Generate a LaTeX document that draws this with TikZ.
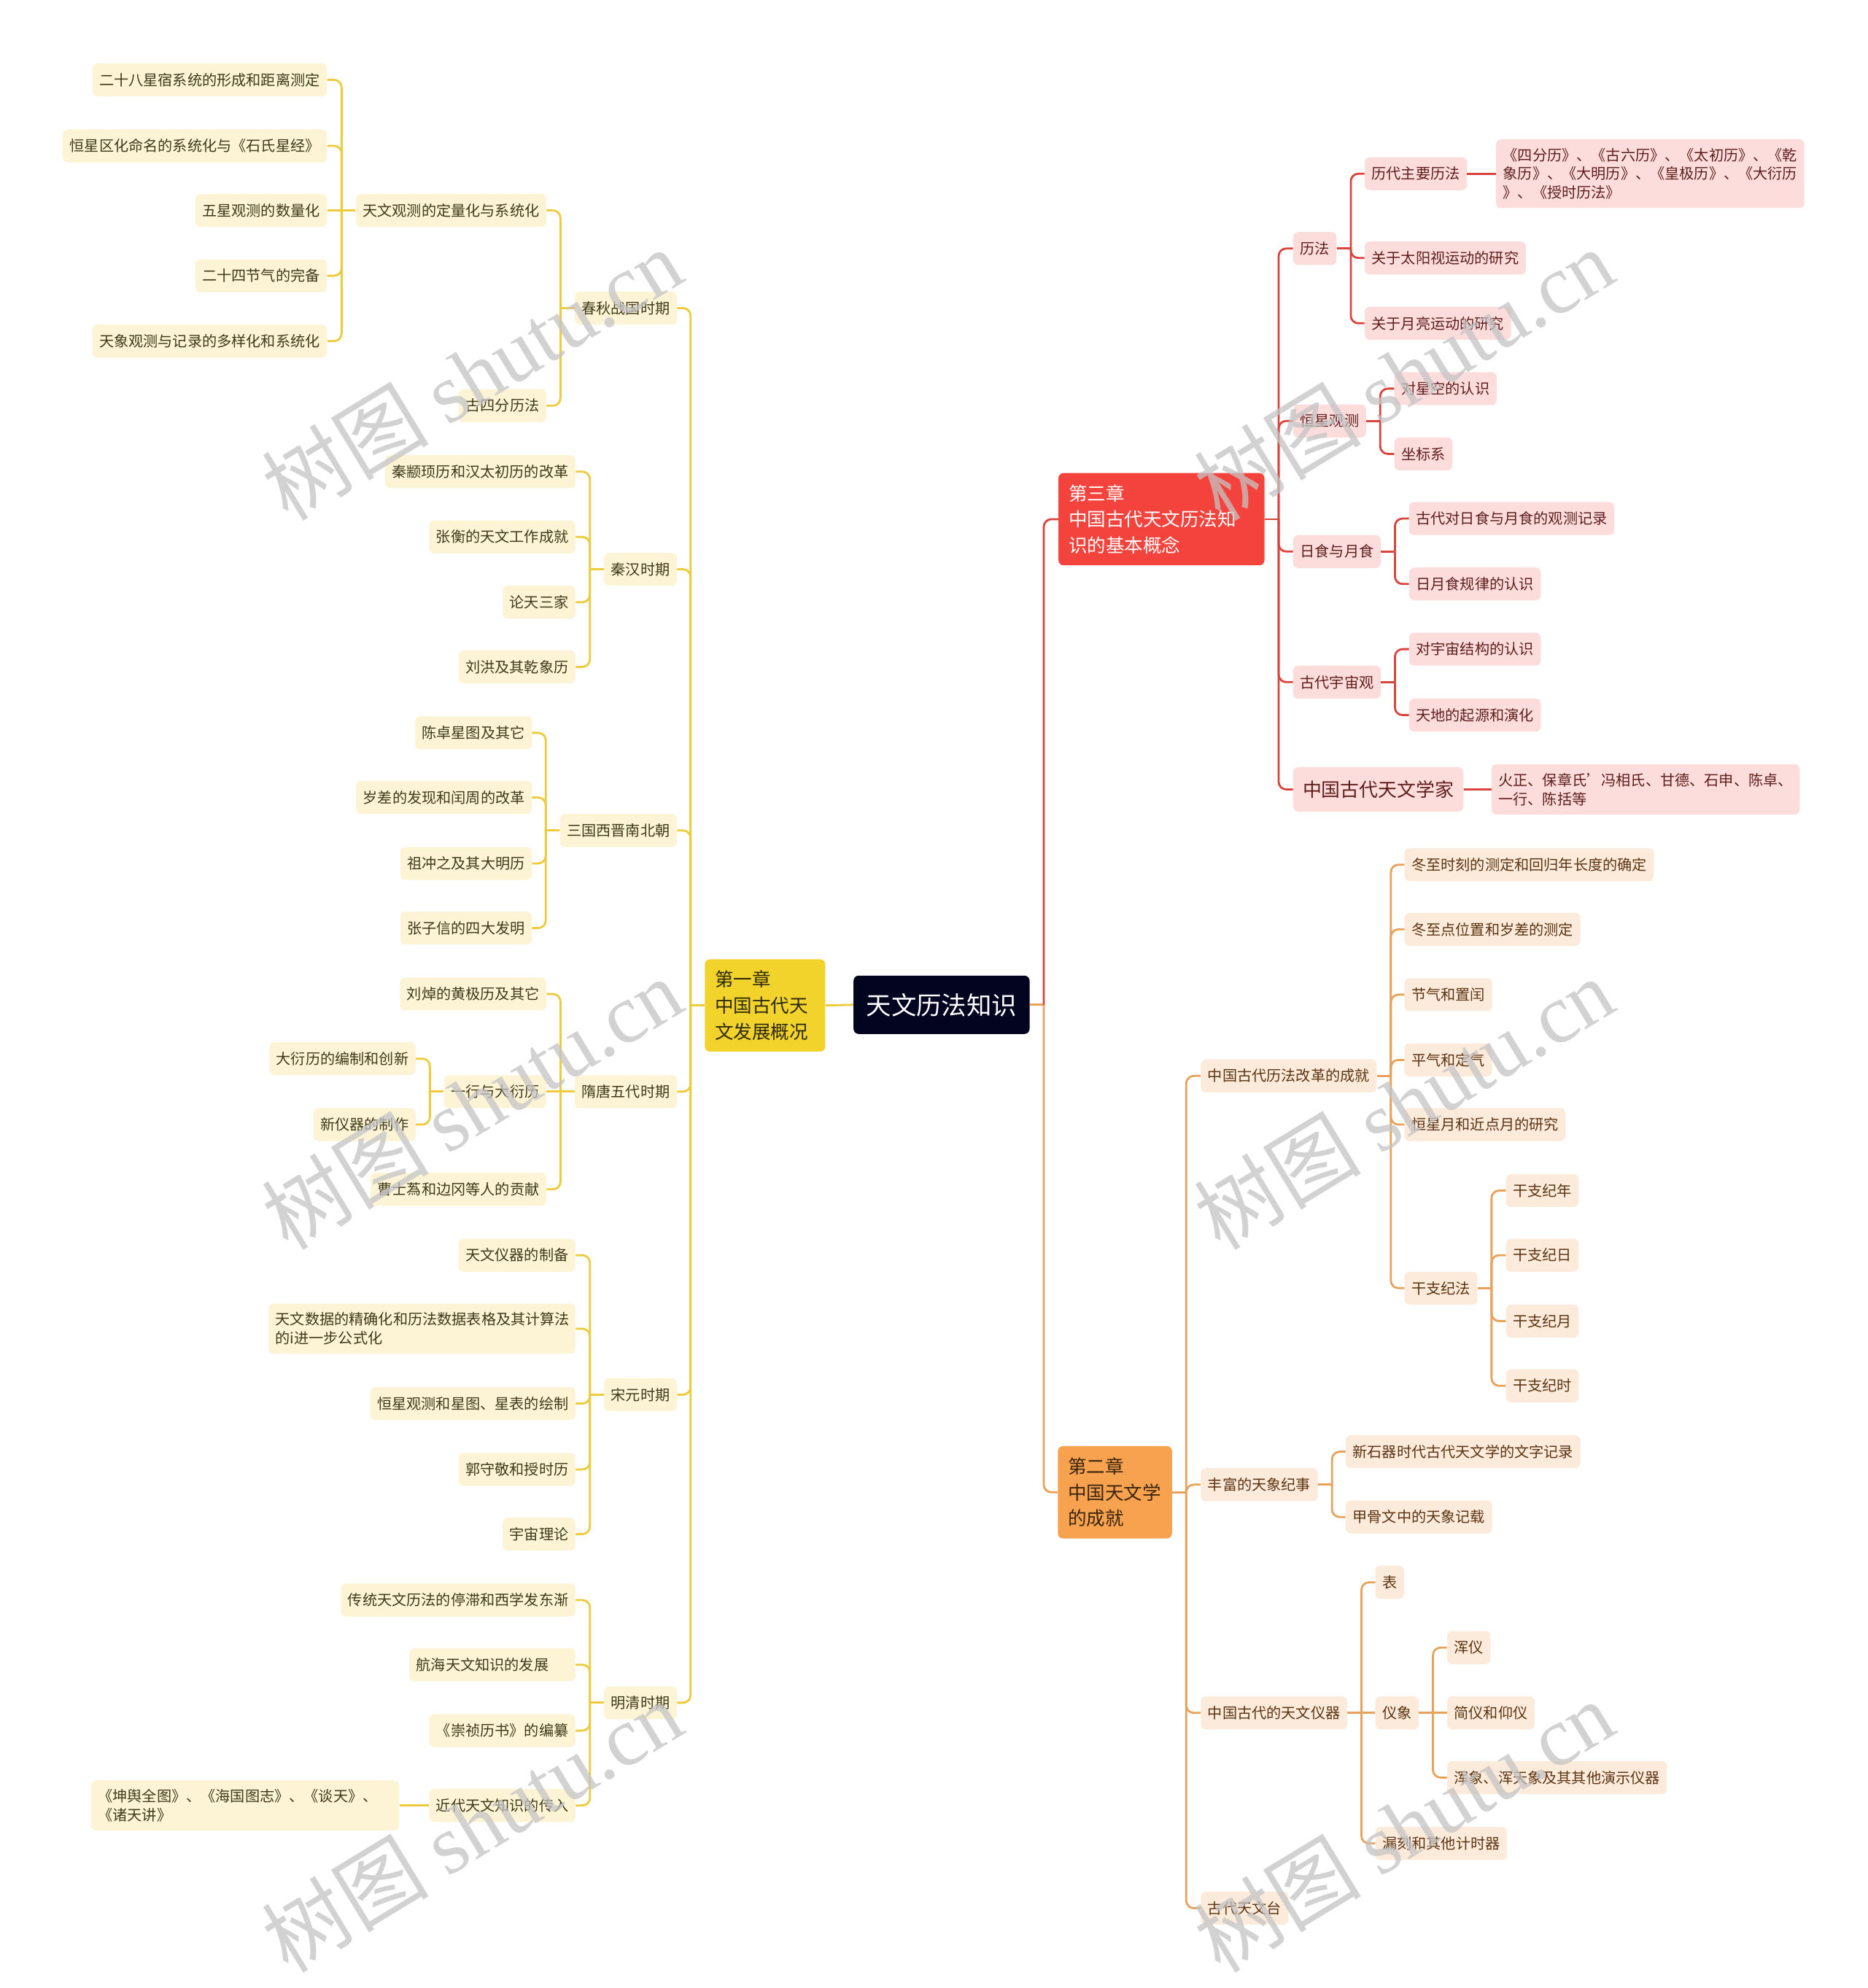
\documentclass[tikz,border=0pt]{standalone}
\usepackage{fontspec}
\setmainfont{Noto Sans CJK SC}
\newfontfamily\wmlatin{Liberation Serif}
\usetikzlibrary{calc}
\definecolor{navy}{HTML}{03041F}
\definecolor{ch1c}{HTML}{F2D32B}
\definecolor{ch1t}{HTML}{2E2A10}
\definecolor{ch3c}{HTML}{F4433C}
\definecolor{ch2c}{HTML}{F6A24F}
\definecolor{ch2t}{HTML}{3B2410}
\definecolor{yfill}{HTML}{FCF4D4}
\definecolor{ytxt}{HTML}{3F3A1C}
\definecolor{rfill}{HTML}{FCDDDC}
\definecolor{rtxt}{HTML}{5E1E1E}
\definecolor{ofill}{HTML}{FCEBDA}
\definecolor{otxt}{HTML}{5B3413}
\definecolor{ylc}{HTML}{EDCB3B}
\definecolor{rlc}{HTML}{D9443F}
\definecolor{olc}{HTML}{E9A25C}
\definecolor{wmc}{HTML}{C4C4C4}
\newcommand{\brL}[3]{\draw[#1] (#2.west) -- ++(-11,0); \draw[#1] ($(#2.west)+(-11,0)$) |- (#3.east);}
\newcommand{\brR}[3]{\draw[#1] (#2.east) -- ++(11,0); \draw[#1] ($(#2.east)+(11,0)$) |- (#3.west);}
\begin{document}
\begin{tikzpicture}[x=1pt,y=-1pt,
  nb/.style={rounded corners=4pt, inner xsep=5.5pt, inner ysep=7pt, minimum height=26pt, font=\fontsize{11.6pt}{14.8pt}\selectfont, align=left},
  yb/.style={nb, fill=yfill, text=ytxt, anchor=east},
  rb/.style={nb, fill=rfill, text=rtxt, anchor=west},
  ob/.style={nb, fill=ofill, text=otxt, anchor=west},
  chap/.style={rounded corners=4pt, font=\fontsize{14.7pt}{20.5pt}\selectfont, align=left, inner xsep=8pt, inner ysep=9pt},
  yl/.style={draw=ylc, line width=1.6pt, rounded corners=6pt},
  rl/.style={draw=rlc, line width=1.6pt, rounded corners=6pt},
  ol/.style={draw=olc, line width=1.6pt, rounded corners=6pt},
  wm/.style={text=wmc, opacity=0.75, font=\fontsize{66pt}{66pt}\selectfont, rotate=31.3, inner sep=0pt}
]
\fill[white] (0,0) rectangle (1473,1568);
\useasboundingbox (0,0) rectangle (1473,1568);

% root and chapters
\node[fill=navy, text=white, rounded corners=4pt, font=\fontsize{19.8pt}{24pt}\selectfont, inner xsep=10pt, inner ysep=0pt, minimum height=46pt] (root) at (742.5,792.5) {天文历法知识};
\node[chap, fill=ch1c, text=ch1t, text width=79pt, anchor=east] (c1) at (651,793) {第一章\\中国古代天\\文发展概况};
\node[chap, fill=ch3c, text=white, text width=146.4pt, anchor=west] (c3) at (834.5,409.5) {第三章\\中国古代天文历法知\\识的基本概念};
\node[chap, fill=ch2c, text=ch2t, text width=74pt, anchor=west] (c2) at (834,1177) {第二章\\中国天文学\\的成就};

% left side
\node[yb] (p1) at (534,243) {春秋战国时期};
\node[yb] (p2) at (534,449) {秦汉时期};
\node[yb] (p3) at (534,655) {三国西晋南北朝};
\node[yb] (p4) at (534,861) {隋唐五代时期};
\node[yb] (p5) at (534,1100) {宋元时期};
\node[yb] (p6) at (534,1343) {明清时期};

\node[yb] (a1) at (431,166) {天文观测的定量化与系统化};
\node[yb] (a2) at (431,320) {古四分历法};
\node[yb] (a11) at (258,63) {二十八星宿系统的形成和距离测定};
\node[yb] (a12) at (258,115) {恒星区化命名的系统化与《石氏星经》};
\node[yb] (a13) at (258,166) {五星观测的数量化};
\node[yb] (a14) at (258,217.5) {二十四节气的完备};
\node[yb] (a15) at (258,269) {天象观测与记录的多样化和系统化};

\node[yb] (b1) at (454,372) {秦颛顼历和汉太初历的改革};
\node[yb] (b2) at (454,423.5) {张衡的天文工作成就};
\node[yb] (b3) at (454,475) {论天三家};
\node[yb] (b4) at (454,526) {刘洪及其乾象历};

\node[yb] (d1) at (419.6,578) {陈卓星图及其它};
\node[yb] (d2) at (419.6,629) {岁差的发现和闰周的改革};
\node[yb] (d3) at (419.6,681) {祖冲之及其大明历};
\node[yb] (d4) at (419.6,732) {张子信的四大发明};

\node[yb] (e1) at (431,784) {刘焯的黄极历及其它};
\node[yb] (e2) at (431,861) {一行与大衍历};
\node[yb] (e3) at (431,938) {曹士蒍和边冈等人的贡献};
\node[yb] (e21) at (328,835) {大衍历的编制和创新};
\node[yb] (e22) at (328,887) {新仪器的制作};

\node[yb] (f1) at (454,990) {天文仪器的制备};
\node[yb, text width=231pt] (f2) at (454,1048) {天文数据的精确化和历法数据表格及其计算法\\的i进一步公式化};
\node[yb] (f3) at (454,1107) {恒星观测和星图、星表的绘制};
\node[yb] (f4) at (454,1159) {郭守敬和授时历};
\node[yb] (f5) at (454,1210) {宇宙理论};

\node[yb] (g1) at (454,1262) {传统天文历法的停滞和西学发东渐};
\node[yb, text width=120pt] (g2) at (454,1313) {航海天文知识的发展};
\node[yb] (g3) at (454,1365) {《崇祯历书》的编纂};
\node[yb] (g4) at (454,1424) {近代天文知识的传入};
\node[yb, text width=232pt] (g41) at (315,1424) {《坤舆全图》、《海国图志》、《谈天》、\\《诸天讲》};

% right side: chapter 3
\node[rb] (h1) at (1019.6,196) {历法};
\node[rb] (h2) at (1019.6,332) {恒星观测};
\node[rb] (h3) at (1019.6,435) {日食与月食};
\node[rb] (h4) at (1019.6,538) {古代宇宙观};
\node[rb, font=\fontsize{14.9pt}{18pt}\selectfont, inner xsep=7.5pt, minimum height=35pt] (h5) at (1019.6,622.6) {中国古代天文学家};
\node[rb] (h11) at (1076,137) {历代主要历法};
\node[rb] (h12) at (1076,203.5) {关于太阳视运动的研究};
\node[rb] (h13) at (1076,255) {关于月亮运动的研究};
\node[rb, text width=232pt] (h111) at (1179.6,137) {《四分历》、《古六历》、《太初历》、《乾\\象历》、《大明历》、《皇极历》、《大衍历\\》、《授时历法》};
\node[rb] (h21) at (1099.4,306.5) {对星空的认识};
\node[rb] (h22) at (1099.4,358) {坐标系};
\node[rb] (h31) at (1111,409) {古代对日食与月食的观测记录};
\node[rb] (h32) at (1111,460.6) {日月食规律的认识};
\node[rb] (h41) at (1111,512) {对宇宙结构的认识};
\node[rb] (h42) at (1111,564) {天地的起源和演化};
\node[rb, text width=232pt] (h51) at (1176,622.6) {火正、保章氏’冯相氏、甘德、石申、陈卓、\\一行、陈括等};

% right side: chapter 2
\node[ob] (k1) at (946.8,848.6) {中国古代历法改革的成就};
\node[ob] (k2) at (946.8,1171) {丰富的天象纪事};
\node[ob] (k3) at (946.8,1351) {中国古代的天文仪器};
\node[ob] (k4) at (946.8,1505) {古代天文台};
\node[ob] (k11) at (1107.4,682) {冬至时刻的测定和回归年长度的确定};
\node[ob] (k12) at (1107.4,733) {冬至点位置和岁差的测定};
\node[ob] (k13) at (1107.4,784.5) {节气和置闰};
\node[ob] (k14) at (1107.4,836) {平气和定气};
\node[ob] (k15) at (1107.4,887) {恒星月和近点月的研究};
\node[ob] (k16) at (1107.4,1016) {干支纪法};
\node[ob] (k161) at (1187.4,939) {干支纪年};
\node[ob] (k162) at (1187.4,990) {干支纪日};
\node[ob] (k163) at (1187.4,1042) {干支纪月};
\node[ob] (k164) at (1187.4,1093) {干支纪时};
\node[ob] (k21) at (1061,1145) {新石器时代古代天文学的文字记录};
\node[ob] (k22) at (1061,1196.5) {甲骨文中的天象记载};
\node[ob] (k31) at (1084.4,1248) {表};
\node[ob] (k32) at (1084.4,1351) {仪象};
\node[ob] (k33) at (1084.4,1454) {漏刻和其他计时器};
\node[ob] (k321) at (1141,1299.5) {浑仪};
\node[ob] (k322) at (1141,1351) {简仪和仰仪};
\node[ob] (k323) at (1141,1402) {浑象、浑天象及其其他演示仪器};

% connectors left
\draw[yl] (root.west) -- (c1.east);
\foreach \c in {p1,p2,p3,p4,p5,p6} {\brL{yl}{c1}{\c}}
\foreach \c in {a1,a2} {\brL{yl}{p1}{\c}}
\foreach \c in {a11,a12,a14,a15} {\brL{yl}{a1}{\c}}
\draw[yl] (a1.west) -- (a13.east);
\foreach \c in {b1,b2,b3,b4} {\brL{yl}{p2}{\c}}
\foreach \c in {d1,d2,d3,d4} {\brL{yl}{p3}{\c}}
\foreach \c in {e1,e3} {\brL{yl}{p4}{\c}}
\draw[yl] (p4.west) -- (e2.east);
\foreach \c in {e21,e22} {\brL{yl}{e2}{\c}}
\foreach \c in {f1,f2,f3,f4,f5} {\brL{yl}{p5}{\c}}
\foreach \c in {g1,g2,g3,g4} {\brL{yl}{p6}{\c}}
\draw[yl] (g4.west) -- (g41.east);

% connectors right
\draw[ol] (root.east) -- ++(11,0);
\draw[rl] ($(root.east)+(11,0)$) |- (c3.west);
\draw[ol] ($(root.east)+(11,0)$) |- (c2.west);
\foreach \c in {h1,h2,h3,h4,h5} {\brR{rl}{c3}{\c}}
\foreach \c in {h11,h12,h13} {\brR{rl}{h1}{\c}}
\draw[rl] (h11.east) -- (h111.west);
\foreach \c in {h21,h22} {\brR{rl}{h2}{\c}}
\foreach \c in {h31,h32} {\brR{rl}{h3}{\c}}
\foreach \c in {h41,h42} {\brR{rl}{h4}{\c}}
\draw[rl] (h5.east) -- (h51.west);
\foreach \c in {k1,k2,k3,k4} {\brR{ol}{c2}{\c}}
\foreach \c in {k11,k12,k13,k14,k15,k16} {\brR{ol}{k1}{\c}}
\foreach \c in {k161,k162,k163,k164} {\brR{ol}{k16}{\c}}
\foreach \c in {k21,k22} {\brR{ol}{k2}{\c}}
\foreach \c in {k31,k33} {\brR{ol}{k3}{\c}}
\draw[ol] (k3.east) -- (k32.west);
\foreach \c in {k321,k323} {\brR{ol}{k32}{\c}}
\draw[ol] (k32.east) -- (k322.west);

% watermarks
\node[wm] (w1) at (372,295) {树图 {\wmlatin shutu.cn}};
\node[wm] (w2) at (372,870) {树图 {\wmlatin shutu.cn}};
\node[wm] (w3) at (372,1440) {树图 {\wmlatin shutu.cn}};
\node[wm] (w4) at (1107,295) {树图 {\wmlatin shutu.cn}};
\node[wm] (w5) at (1107,870) {树图 {\wmlatin shutu.cn}};
\node[wm] (w6) at (1107,1440) {树图 {\wmlatin shutu.cn}};
\end{tikzpicture}
\end{document}
